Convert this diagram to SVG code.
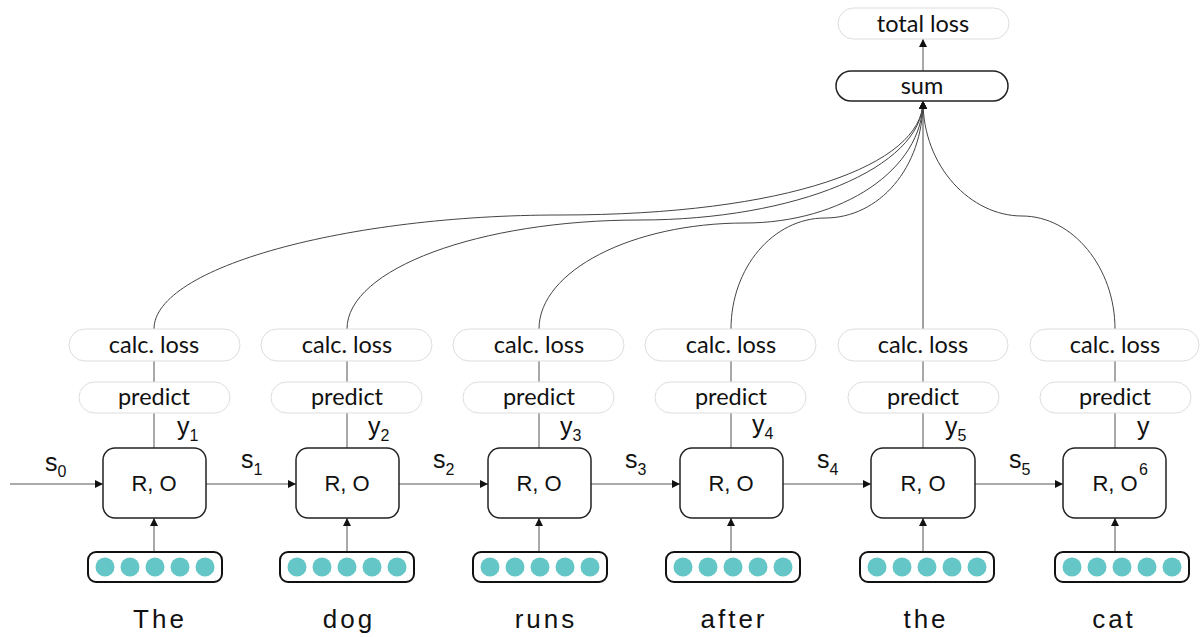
<svg xmlns="http://www.w3.org/2000/svg" width="1200" height="637" viewBox="0 0 1200 637">
  <style>
    .pill { fill: #ffffff; stroke: #dddddd; stroke-width: 1; }
    .sumbox { fill: #ffffff; stroke: #222222; stroke-width: 1.5; }
    .cell { fill: #ffffff; stroke: #222222; stroke-width: 1.5; }
    .emb { fill: #ffffff; stroke: #111111; stroke-width: 2; }
    .dot { fill: #64c6c6; }
    .lbl { font-family: "Lato", "Open Sans", sans-serif; font-size: 23.5px; fill: #111111; text-anchor: middle; }
    .cellt { font-family: "Liberation Sans", Arial, sans-serif; font-size: 22px; fill: #111111; text-anchor: middle; }
    .var { font-family: "Liberation Sans", Arial, sans-serif; font-size: 25px; fill: #111111; }
    .sub { font-size: 16px; }
    .word { font-family: "Liberation Sans", Arial, sans-serif; font-size: 26px; letter-spacing: 3px; fill: #111111; text-anchor: middle; }
    .conn { fill: none; stroke: #555555; stroke-width: 1; }
    .curve { fill: none; stroke: #444444; stroke-width: 1; }
  </style>
  <defs>
    <marker id="arrow" viewBox="0 0 8 8" refX="8" refY="4" markerWidth="8" markerHeight="8" markerUnits="userSpaceOnUse" orient="auto">
      <path d="M0,0 L8,4 L0,8 z" fill="#111111"/>
    </marker>
  </defs>

  <rect width="1200" height="637" fill="#ffffff"/>

  <!-- connectors -->
  <g id="connectors">
    <!-- state chain -->
    <line class="conn" x1="10" y1="484" x2="103" y2="484" marker-end="url(#arrow)"/>
    <line class="conn" x1="206" y1="484" x2="296" y2="484" marker-end="url(#arrow)"/>
    <line class="conn" x1="399" y1="484" x2="488" y2="484" marker-end="url(#arrow)"/>
    <line class="conn" x1="591" y1="484" x2="680" y2="484" marker-end="url(#arrow)"/>
    <line class="conn" x1="783" y1="484" x2="871" y2="484" marker-end="url(#arrow)"/>
    <line class="conn" x1="975" y1="484" x2="1063" y2="484" marker-end="url(#arrow)"/>

    <!-- embeddings into cells -->
    <line class="conn" x1="154" y1="552" x2="154" y2="518" marker-end="url(#arrow)"/>
    <line class="conn" x1="347" y1="552" x2="347" y2="518" marker-end="url(#arrow)"/>
    <line class="conn" x1="539" y1="552" x2="539" y2="518" marker-end="url(#arrow)"/>
    <line class="conn" x1="731" y1="552" x2="731" y2="518" marker-end="url(#arrow)"/>
    <line class="conn" x1="923" y1="552" x2="923" y2="518" marker-end="url(#arrow)"/>
    <line class="conn" x1="1115" y1="552" x2="1115" y2="518" marker-end="url(#arrow)"/>

    <!-- cell -> predict -> calc. loss -->
    <path class="conn" d="M154,448 V413 M154,382 V361"/>
    <path class="conn" d="M347,448 V413 M347,382 V361"/>
    <path class="conn" d="M539,448 V413 M539,382 V361"/>
    <path class="conn" d="M731,448 V413 M731,382 V361"/>
    <path class="conn" d="M923,448 V413 M923,382 V361"/>
    <path class="conn" d="M1115,448 V413 M1115,382 V361"/>

    <!-- losses into sum -->
    <path class="curve" d="M154,329 C154,267 348,215 560,215 C787,215 923,165 923,101" marker-end="url(#arrow)"/>
    <path class="curve" d="M347,329 C347,269 479,220 640,220 C794,220 923,168 923,101" marker-end="url(#arrow)"/>
    <path class="curve" d="M539,329 C539,271 632,223 745,223 C841,223 923,170 923,101" marker-end="url(#arrow)"/>
    <path class="curve" d="M731,329 C731,268 773,218 825,218 C879,218 923,168 923,101" marker-end="url(#arrow)"/>
    <path class="curve" d="M923,329 V101" marker-end="url(#arrow)"/>
    <path class="curve" d="M1115,329 C1115,268 1073,216 1022,216 C971,216 923,167 923,101" marker-end="url(#arrow)"/>

    <!-- sum -> total loss -->
    <line class="conn" x1="923" y1="71" x2="923" y2="39" marker-end="url(#arrow)"/>
  </g>

  <!-- top nodes -->
  <g id="total-loss">
    <rect class="pill" x="838" y="8" width="171" height="31" rx="15.5"/>
    <text class="lbl" x="923" y="32">total loss</text>
  </g>
  <g id="sum">
    <rect class="sumbox" x="836" y="71" width="172" height="30" rx="15"/>
    <text class="lbl" x="922" y="94">sum</text>
  </g>

  <!-- step 1 -->
  <g id="loss-1"><rect class="pill" x="69" y="329" width="171" height="32" rx="16"/><text class="lbl" x="154" y="353">calc. loss</text></g>
  <g id="predict-1"><rect class="pill" x="79" y="382" width="151" height="31" rx="15.5"/><text class="lbl" x="154" y="405">predict</text></g>
  <g id="cell-1"><rect class="cell" x="103" y="448" width="103" height="70" rx="12"/><text class="cellt" x="154" y="491">R, O</text></g>
  <g id="emb-1"><rect class="emb" x="88" y="552" width="134" height="30" rx="8"/>
    <circle class="dot" cx="105" cy="567" r="9.5"/><circle class="dot" cx="130" cy="567" r="9.5"/><circle class="dot" cx="155" cy="567" r="9.5"/><circle class="dot" cx="180" cy="567" r="9.5"/><circle class="dot" cx="205" cy="567" r="9.5"/></g>
  <text class="word" x="160" y="628">The</text>

  <!-- step 2 -->
  <g id="loss-2"><rect class="pill" x="261" y="329" width="171" height="32" rx="16"/><text class="lbl" x="347" y="353">calc. loss</text></g>
  <g id="predict-2"><rect class="pill" x="271" y="382" width="151" height="31" rx="15.5"/><text class="lbl" x="347" y="405">predict</text></g>
  <g id="cell-2"><rect class="cell" x="296" y="448" width="103" height="70" rx="12"/><text class="cellt" x="347" y="491">R, O</text></g>
  <g id="emb-2"><rect class="emb" x="280" y="552" width="134" height="30" rx="8"/>
    <circle class="dot" cx="297" cy="567" r="9.5"/><circle class="dot" cx="322" cy="567" r="9.5"/><circle class="dot" cx="347" cy="567" r="9.5"/><circle class="dot" cx="372" cy="567" r="9.5"/><circle class="dot" cx="397" cy="567" r="9.5"/></g>
  <text class="word" x="349" y="628">dog</text>

  <!-- step 3 -->
  <g id="loss-3"><rect class="pill" x="453" y="329" width="171" height="32" rx="16"/><text class="lbl" x="539" y="353">calc. loss</text></g>
  <g id="predict-3"><rect class="pill" x="463" y="382" width="151" height="31" rx="15.5"/><text class="lbl" x="539" y="405">predict</text></g>
  <g id="cell-3"><rect class="cell" x="488" y="448" width="103" height="70" rx="12"/><text class="cellt" x="539" y="491">R, O</text></g>
  <g id="emb-3"><rect class="emb" x="473" y="552" width="134" height="30" rx="8"/>
    <circle class="dot" cx="490" cy="567" r="9.5"/><circle class="dot" cx="515" cy="567" r="9.5"/><circle class="dot" cx="540" cy="567" r="9.5"/><circle class="dot" cx="565" cy="567" r="9.5"/><circle class="dot" cx="590" cy="567" r="9.5"/></g>
  <text class="word" x="546" y="628">runs</text>

  <!-- step 4 -->
  <g id="loss-4"><rect class="pill" x="645" y="329" width="171" height="32" rx="16"/><text class="lbl" x="731" y="353">calc. loss</text></g>
  <g id="predict-4"><rect class="pill" x="655" y="382" width="151" height="31" rx="15.5"/><text class="lbl" x="731" y="405">predict</text></g>
  <g id="cell-4"><rect class="cell" x="680" y="448" width="103" height="70" rx="12"/><text class="cellt" x="731" y="491">R, O</text></g>
  <g id="emb-4"><rect class="emb" x="666" y="552" width="134" height="30" rx="8"/>
    <circle class="dot" cx="683" cy="567" r="9.5"/><circle class="dot" cx="708" cy="567" r="9.5"/><circle class="dot" cx="733" cy="567" r="9.5"/><circle class="dot" cx="758" cy="567" r="9.5"/><circle class="dot" cx="783" cy="567" r="9.5"/></g>
  <text class="word" x="734" y="628">after</text>

  <!-- step 5 -->
  <g id="loss-5"><rect class="pill" x="838" y="329" width="170" height="32" rx="16"/><text class="lbl" x="923" y="353">calc. loss</text></g>
  <g id="predict-5"><rect class="pill" x="848" y="382" width="151" height="31" rx="15.5"/><text class="lbl" x="923" y="405">predict</text></g>
  <g id="cell-5"><rect class="cell" x="871" y="448" width="104" height="70" rx="12"/><text class="cellt" x="923" y="491">R, O</text></g>
  <g id="emb-5"><rect class="emb" x="860" y="552" width="134" height="30" rx="8"/>
    <circle class="dot" cx="877" cy="567" r="9.5"/><circle class="dot" cx="902" cy="567" r="9.5"/><circle class="dot" cx="927" cy="567" r="9.5"/><circle class="dot" cx="952" cy="567" r="9.5"/><circle class="dot" cx="977" cy="567" r="9.5"/></g>
  <text class="word" x="926" y="628">the</text>

  <!-- step 6 -->
  <g id="loss-6"><rect class="pill" x="1030" y="329" width="169" height="32" rx="16"/><text class="lbl" x="1115" y="353">calc. loss</text></g>
  <g id="predict-6"><rect class="pill" x="1040" y="382" width="151" height="31" rx="15.5"/><text class="lbl" x="1115" y="405">predict</text></g>
  <g id="cell-6"><rect class="cell" x="1063" y="448" width="103" height="70" rx="12"/><text class="cellt" x="1115" y="491">R, O</text><text class="var sub" x="1139" y="475">6</text></g>
  <g id="emb-6"><rect class="emb" x="1055" y="552" width="134" height="30" rx="8"/>
    <circle class="dot" cx="1072" cy="567" r="9.5"/><circle class="dot" cx="1097" cy="567" r="9.5"/><circle class="dot" cx="1122" cy="567" r="9.5"/><circle class="dot" cx="1147" cy="567" r="9.5"/><circle class="dot" cx="1172" cy="567" r="9.5"/></g>
  <text class="word" x="1114" y="628">cat</text>

  <!-- state labels -->
  <g id="state-labels">
    <text class="var" x="45" y="471">s<tspan class="sub" dy="6">0</tspan></text>
    <text class="var" x="241" y="468">s<tspan class="sub" dy="7">1</tspan></text>
    <text class="var" x="433" y="468">s<tspan class="sub" dy="7">2</tspan></text>
    <text class="var" x="625" y="468">s<tspan class="sub" dy="7">3</tspan></text>
    <text class="var" x="817" y="468">s<tspan class="sub" dy="7">4</tspan></text>
    <text class="var" x="1009" y="468">s<tspan class="sub" dy="7">5</tspan></text>
  </g>

  <!-- output labels -->
  <g id="output-labels">
    <text class="var" x="177" y="435">y<tspan class="sub" dy="6">1</tspan></text>
    <text class="var" x="368" y="435">y<tspan class="sub" dy="6">2</tspan></text>
    <text class="var" x="560" y="435">y<tspan class="sub" dy="6">3</tspan></text>
    <text class="var" x="752" y="433">y<tspan class="sub" dy="6">4</tspan></text>
    <text class="var" x="945" y="435">y<tspan class="sub" dy="6">5</tspan></text>
    <text class="var" x="1137" y="435">y</text>
  </g>
</svg>
